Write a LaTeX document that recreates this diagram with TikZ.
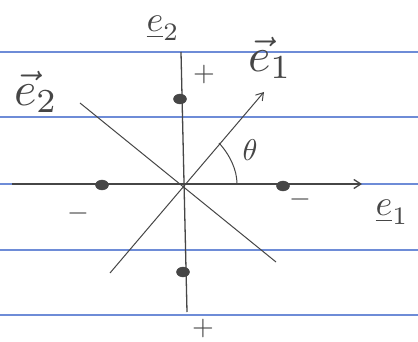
\documentclass[tikz,border=0pt]{standalone}
\usepackage{graphicx}
\usetikzlibrary{arrows.meta,shapes.geometric}
\definecolor{ruled}{RGB}{110,140,215}
\definecolor{ink}{RGB}{70,70,70}
\begin{document}
\begin{tikzpicture}[x=1pt,y=-1pt,
  ruledline/.style={ruled,line width=1.2pt},
  axis/.style={ink,line width=1.3pt},
  dot/.style={ellipse,fill=ink,draw=ink,minimum width=13pt,minimum height=10pt,inner sep=0pt},
  lbl/.style={ink,inner sep=0pt}]
\useasboundingbox (0,0) rectangle (418,342);
\fill[white] (0,0) rectangle (418,342);
\foreach \yy in {52,117,184,250,315}
  \draw[ruledline] (0,\yy) -- (418,\yy);
\coordinate (O) at (182,184);
\coordinate (L) at (12,184);
\coordinate (R) at (362,184);
\coordinate (T) at (181,52);
\coordinate (B) at (187,312);
\coordinate (E1) at (264,92);
\coordinate (SW) at (110,273);
\coordinate (NW) at (80,103);
\coordinate (SE) at (276,262);
\coordinate (A1) at (219,143);
\coordinate (A0) at (237,184);
\draw[axis,line width=2pt] (L) -- (O);
\draw[axis,-{Straight Barb[length=7pt,width=9pt]}] (O) -- (R);
\draw[axis] (T) -- (B);
\draw[axis,line width=1pt,-{Straight Barb[length=7pt,width=9pt]}] (SW) -- (E1);
\draw[axis,line width=1pt] (NW) -- (SE);
\draw[axis,line width=1pt] (A1) .. controls (230,155) and (237,170) .. (A0);
\node[dot] (d1) at (180,99) {};
\node[dot] (d2) at (183,272) {};
\node[dot] (d3) at (102,185) {};
\node[dot] (d4) at (283,186) {};
\node[lbl] (le2) at (163,28) {\scalebox{3.6}{$\underline{e}_2$}};
\node[lbl] (ve1) at (270,58) {\scalebox{4.8}{$\vec{e}_1$}};
\node[lbl] (ve2) at (36,92) {\scalebox{4.8}{$\vec{e}_2$}};
\node[lbl] (le1) at (392,212) {\scalebox{3.6}{$\underline{e}_1$}};
\node[lbl] (th) at (250,150) {\scalebox{3}{$\theta$}};
\node[lbl] (p1) at (204,75) {\scalebox{2.8}{$+$}};
\node[lbl] (m1) at (78,214) {\scalebox{2.8}{$-$}};
\node[lbl] (m2) at (300,200) {\scalebox{2.8}{$-$}};
\node[lbl] (p2) at (203,328) {\scalebox{2.8}{$+$}};
\end{tikzpicture}
\end{document}
